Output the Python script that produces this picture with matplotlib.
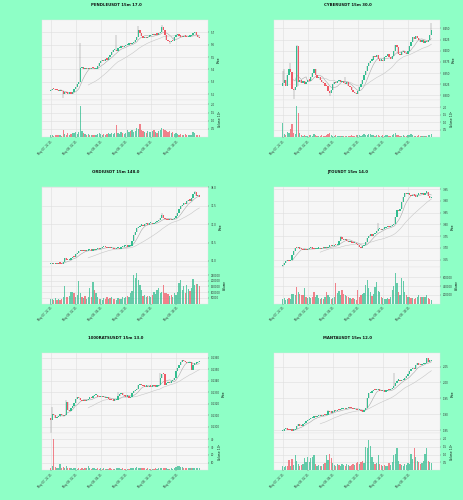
import numpy as np
import matplotlib
matplotlib.use("Agg")
import matplotlib.pyplot as plt

# ---------------- data ----------------
titles = ["PENDLEUSDT 15m 17.0", "CYBERUSDT 15m 30.0", "ORDIUSDT 15m 148.0",
          "JTOUSDT 15m 14.0", "1000RATSUSDT 15m 13.0", "MANTAUSDT 15m 12.0"]

x_tick_labels = ["May 07, 22:15", "May 08, 02:15", "May 08, 06:15",
                 "May 08, 10:15", "May 08, 14:15", "May 08, 18:15"]

# PENDLE
pendle_open0 = 5.225
pendle_close = [5.235, 5.245, 5.24, 5.235, 5.232, 5.228, 5.23, 5.225,
                5.20,
                5.215, 5.21, 5.205, 5.21,
                5.205, 5.215,
                5.24, 5.26, 5.28, 5.30,
                5.41,
                5.42, 5.40, 5.41, 5.405, 5.41, 5.40, 5.415, 5.41, 5.40, 5.405,
                5.43, 5.45, 5.47,
                5.48, 5.465, 5.485, 5.48, 5.50,
                5.52, 5.54, 5.555, 5.56,
                5.55,
                5.57, 5.575, 5.585, 5.58, 5.59, 5.595,
                5.60, 5.61, 5.605, 5.615, 5.62,
                5.64, 5.66,
                5.72,
                5.69,
                5.67, 5.655,
                5.66, 5.655, 5.665, 5.67, 5.675,
                5.68, 5.675, 5.685, 5.68, 5.69,
                5.70, 5.74, 5.72, 5.68, 5.64,
                5.625, 5.62, 5.63, 5.625,
                5.66, 5.675, 5.685,
                5.67, 5.665, 5.66, 5.67, 5.665, 5.66,
                5.665, 5.67, 5.675,
                5.69, 5.70,
                5.675, 5.66, 5.655]
pendle_volume = [0.10, 0.12, 0.08, 0.10, 0.15, 0.10, 0.12, 0.09,
                 0.45,
                 0.20, 0.15, 0.25, 0.12,
                 0.18, 0.22,
                 0.25, 0.30, 0.20, 0.28,
                 1.90,
                 0.35, 0.25, 0.20, 0.15, 0.18, 0.12, 0.10, 0.15, 0.12, 0.10,
                 0.20, 0.25, 0.18,
                 0.15, 0.20, 0.12, 0.18, 0.22,
                 0.20, 0.25, 0.18, 0.22,
                 0.75,
                 0.25, 0.20, 0.30, 0.22, 0.18, 0.25,
                 0.45, 0.30, 0.35, 0.40, 0.30,
                 0.35, 0.55,
                 0.50,
                 0.80,
                 0.40, 0.35,
                 0.30, 0.25, 0.35, 0.30, 0.28,
                 0.35, 0.40, 0.30, 0.25, 0.35,
                 0.40, 0.55, 0.50, 0.45, 0.35,
                 0.30, 0.35, 0.25, 0.30,
                 0.20, 0.25, 0.18,
                 0.15, 0.18, 0.12, 0.15, 0.20, 0.12,
                 0.15, 0.10, 0.12,
                 0.30, 0.25,
                 0.15, 0.12, 0.10]
pendle_high = {19: 5.61, 42: 5.68, 56: 5.75, 71: 5.76}
pendle_low = {8: 5.17, 76: 5.605}
pendle_yticks = [5.2, 5.3, 5.4, 5.5, 5.6, 5.7]
pendle_vticks = [0.5, 1.0, 1.5, 2.0]

# CYBER
cyber_open0 = 8.320
cyber_close = [8.327, 8.335, 8.322,
               8.345, 8.360, 8.352,
               8.315, 8.312, 8.318,
               8.410,
               8.330,
               8.335, 8.328, 8.332, 8.325, 8.330, 8.335, 8.333,
               8.342, 8.350, 8.360,
               8.345, 8.338, 8.340,
               8.335, 8.330, 8.328, 8.322, 8.320,
               8.310, 8.305, 8.312,
               8.325, 8.330, 8.328, 8.332, 8.335, 8.330, 8.333,
               8.328, 8.325, 8.330, 8.322,
               8.318, 8.312, 8.308, 8.305, 8.303,
               8.310, 8.318, 8.325, 8.335,
               8.345, 8.355, 8.365, 8.372,
               8.378, 8.380, 8.388, 8.385, 8.390, 8.382, 8.378,
               8.380, 8.376, 8.385, 8.388, 8.392,
               8.386, 8.382, 8.388,
               8.400, 8.412, 8.408,
               8.392, 8.390,
               8.396, 8.400, 8.394, 8.392,
               8.400, 8.410, 8.420,
               8.430, 8.426, 8.432, 8.428, 8.425,
               8.420, 8.424, 8.418, 8.422,
               8.420, 8.425, 8.435, 8.446]
cyber_volume = [0.95, 0.20, 0.15, 0.35, 0.30, 0.55, 0.85, 0.30, 0.20, 2.10,
                1.60, 0.25, 0.15, 0.10, 0.12, 0.08, 0.10, 0.12, 0.15, 0.10,
                0.18, 0.12, 0.10, 0.08, 0.10, 0.12, 0.08, 0.10, 0.15, 0.20,
                0.25, 0.12, 0.10, 0.08, 0.12, 0.10, 0.08, 0.10, 0.06, 0.08,
                0.10, 0.08, 0.06, 0.10, 0.12, 0.08, 0.10, 0.12, 0.15, 0.12,
                0.10, 0.15, 0.18, 0.12, 0.15, 0.18, 0.20, 0.12, 0.15, 0.10,
                0.12, 0.15, 0.08, 0.10, 0.12, 0.10, 0.15, 0.12, 0.10, 0.08,
                0.12, 0.20, 0.28, 0.15, 0.12, 0.10, 0.08, 0.12, 0.10, 0.08,
                0.15, 0.12, 0.20, 0.15, 0.10, 0.08, 0.10, 0.12, 0.08, 0.10,
                0.06, 0.08, 0.10, 0.12, 0.15, 0.20]
cyber_high = {0: 8.355, 1: 8.36, 5: 8.372, 9: 8.412, 40: 8.34, 95: 8.462}
cyber_low = {7: 8.292, 10: 8.32, 30: 8.298}
cyber_yticks = [8.300, 8.325, 8.350, 8.375, 8.400, 8.425, 8.450]
cyber_vticks = [0.5, 1.0, 1.5, 2.0]

# ORDI
ordi_open0 = 35.91
ordi_close = [35.92, 35.93, 35.92, 35.93, 35.92, 35.94, 35.93, 35.92,
              35.98, 36.07,
              36.04, 36.02, 36.03,
              36.08, 36.12, 36.10,
              36.18, 36.22, 36.26,
              36.28, 36.26, 36.29, 36.27, 36.28, 36.29,
              36.30, 36.28, 36.31, 36.30,
              36.32, 36.34, 36.33, 36.35,
              36.37, 36.39, 36.38, 36.36, 36.37,
              36.34, 36.35, 36.33,
              36.32, 36.34, 36.35, 36.33,
              36.37, 36.39, 36.40, 36.41, 36.39,
              36.40, 36.42,
              36.55, 36.71,
              36.80,
              36.90, 36.93,
              36.96, 36.99, 36.95,
              37.00, 37.02, 36.99,
              37.02, 37.04, 37.01, 37.03, 37.05,
              37.08, 37.11,
              37.18, 37.25,
              37.16, 37.13,
              37.12, 37.11, 37.13, 37.12, 37.14,
              37.17, 37.22, 37.29,
              37.40, 37.50, 37.52, 37.57,
              37.55, 37.62, 37.66,
              37.64, 37.70,
              37.82, 37.86,
              37.76, 37.80, 37.75]
ordi_volume = [40, 45, 30, 50, 35, 45, 30, 40,
               55, 150, 60, 55, 70,
               100, 105, 90, 60, 75, 200,
               90, 55, 50, 70, 40, 55,
               135, 60, 185, 120, 95, 55, 45, 40,
               35, 50, 40, 55, 45, 50, 55, 40,
               45, 35, 50, 40, 45, 60, 50, 55, 70,
               60, 90, 110, 250, 220, 265, 205, 160, 120, 70,
               75, 60, 70, 65, 55, 80, 100, 85, 120, 135,
               95, 105, 160, 90, 95, 85, 70, 80, 60,
               95, 75, 100, 180, 210, 120, 150, 95, 160,
               130, 110, 140, 215, 165, 175, 170, 150]
ordi_high = {71: 37.30, 92: 37.90}
ordi_low = {}
ordi_yticks = [36.0, 36.5, 37.0, 37.5, 38.0]
ordi_vticks = [50000, 100000, 150000, 200000, 250000]

# JTO
jto_open0 = 3.622
jto_close = [3.628, 3.636, 3.642,
             3.648, 3.645, 3.650,
             3.668, 3.685, 3.700,
             3.698, 3.703,
             3.697, 3.693, 3.690,
             3.692, 3.689,
             3.696, 3.700, 3.702,
             3.696, 3.693, 3.695,
             3.697, 3.699, 3.696, 3.700, 3.698, 3.702, 3.700,
             3.705, 3.708, 3.706, 3.709,
             3.712, 3.710, 3.714,
             3.730, 3.745,
             3.738, 3.734, 3.736,
             3.728, 3.726, 3.730,
             3.722, 3.719, 3.720, 3.716,
             3.710, 3.705, 3.700,
             3.706, 3.712,
             3.725, 3.740, 3.752,
             3.756, 3.752, 3.760, 3.762,
             3.770, 3.778,
             3.780, 3.776, 3.782, 3.785,
             3.788, 3.790, 3.788, 3.792,
             3.796, 3.800,
             3.830, 3.860,
             3.855, 3.866,
             3.895, 3.918,
             3.932, 3.928, 3.935,
             3.924, 3.920, 3.925, 3.922,
             3.918, 3.926, 3.930,
             3.928, 3.932, 3.926,
             3.935, 3.938,
             3.920, 3.910, 3.912]
jto_volume = [100, 120, 90, 110, 130, 100,
              210, 230, 200,
              385, 260, 220, 190, 200, 350, 150,
              130, 150, 120, 140,
              270, 160, 200, 130, 100, 120, 110, 150, 270,
              190, 140, 100, 120, 150, 460, 240,
              280, 200, 310, 220, 190, 170, 150, 130,
              110, 120, 100, 90, 300, 160, 190, 230,
              250, 420, 535, 350, 270, 180, 230, 380,
              500, 280, 260, 160, 130, 100, 110, 120,
              100, 150, 300, 400, 690, 460, 270, 200,
              570, 520, 270, 200, 160, 150, 120, 130,
              110, 130, 150, 190, 160, 140, 150,
              140, 190, 120, 100, 90]
jto_high = {61: 3.807, 37: 3.750}
jto_low = {0: 3.615}
jto_yticks = [3.65, 3.70, 3.75, 3.80, 3.85, 3.90, 3.95]
jto_vticks = [200000, 400000, 600000]

# 1000RATS
rats_open0 = 0.13080
rats_close = [0.13060,
              0.13110, 0.13104,
              0.13075, 0.13085, 0.13095,
              0.13112, 0.13100,
              0.13095, 0.13105,
              0.13215,
              0.13150, 0.13140, 0.13160,
              0.13185, 0.13210, 0.13240,
              0.13255, 0.13250,
              0.13235, 0.13225,
              0.13230, 0.13225, 0.13232,
              0.13245, 0.13250, 0.13248,
              0.13265, 0.13275, 0.13278,
              0.13262, 0.13258,
              0.13262, 0.13255, 0.13258, 0.13250, 0.13252,
              0.13245, 0.13235, 0.13230, 0.13228,
              0.13232, 0.13235,
              0.13265, 0.13285, 0.13292,
              0.13275, 0.13268, 0.13262, 0.13270,
              0.13250, 0.13262, 0.13290,
              0.13310, 0.13322, 0.13330,
              0.13360, 0.13372, 0.13365,
              0.13355, 0.13350,
              0.13352, 0.13348, 0.13356, 0.13350, 0.13354, 0.13352,
              0.13350, 0.13355, 0.13360,
              0.13420, 0.13462,
              0.13455,
              0.13365,
              0.13380, 0.13386, 0.13382,
              0.13395, 0.13405, 0.13420,
              0.13480, 0.13508,
              0.13540, 0.13565, 0.13580,
              0.13570, 0.13560, 0.13550,
              0.13555, 0.13560,
              0.13495,
              0.13540, 0.13548,
              0.13550, 0.13562, 0.13575]
rats_volume = [3, 5, 40, 4, 3, 2.5, 8, 3, 4, 3.5,
               5, 3, 2.5, 3, 2, 2.5, 3, 2, 2.5, 2,
               3, 2, 2.5, 3, 5, 2.5, 2, 3, 2.5, 2,
               2.5, 2, 3, 2, 2.5, 2, 1.5, 2, 2.5, 2,
               1.5, 2, 2.5, 3, 2.5, 2, 2.5, 2, 1.5, 2,
               2, 2.5, 3, 3.5, 3, 4, 3.5, 3, 3.5, 3,
               2.5, 2, 2.5, 2, 1.5, 2, 2, 2.5, 2, 2.5,
               3.5, 3, 2.5, 3, 2.5, 2, 2, 2.5, 2, 2.5,
               4, 5, 5.5, 4.5, 4, 3.5, 3, 2.5, 3, 2.5,
               3.5, 3, 2.5, 3, 2.5, 3]
rats_high = {1: 0.13175, 10: 0.13235, 43: 0.13300, 70: 0.13470}
rats_low = {0: 0.12950}
rats_yticks = [0.1300, 0.1310, 0.1320, 0.1330, 0.1340, 0.1350, 0.1360]
rats_vticks = [10, 20, 30, 40]

# MANTA
manta_open0 = 1.846
manta_close = [1.848, 1.853, 1.855,
               1.851, 1.849, 1.852, 1.848,
               1.850, 1.852,
               1.862, 1.870,
               1.864, 1.862,
               1.868, 1.872, 1.877,
               1.882, 1.885, 1.887,
               1.889, 1.891, 1.890,
               1.893, 1.894, 1.896, 1.895, 1.897,
               1.896, 1.898,
               1.911,
               1.907, 1.905, 1.908,
               1.911, 1.910,
               1.913, 1.912, 1.915,
               1.916, 1.917, 1.915, 1.918,
               1.921, 1.920,
               1.918, 1.916, 1.917,
               1.914, 1.912, 1.913, 1.910,
               1.908, 1.912,
               1.918,
               1.950, 1.966,
               1.968, 1.972,
               1.976, 1.975, 1.977,
               1.978, 1.974,
               1.972, 1.973, 1.971, 1.974,
               1.976, 1.975,
               1.979, 1.982,
               1.990, 1.997,
               2.006, 2.008,
               2.005, 2.007, 2.009,
               2.013, 2.020, 2.028,
               2.035, 2.042, 2.045,
               2.041, 2.055,
               2.063, 2.056,
               2.054, 2.057,
               2.058, 2.060,
               2.076, 2.066,
               2.068, 2.071]
manta_volume = [0.25, 0.20, 0.30, 0.25,
                0.65, 0.30, 0.75, 0.35, 0.95, 0.60, 0.40,
                0.30, 0.35, 0.40,
                0.80, 0.55, 0.85, 0.50, 0.80, 0.85, 0.95,
                0.40, 0.30, 0.35, 0.25, 0.30,
                0.40, 0.45, 1.00, 0.65, 1.05, 0.80, 0.45,
                0.35, 0.30, 0.40, 0.35, 0.30,
                0.40, 0.35, 0.30, 0.40, 0.35, 0.30, 0.35,
                0.40, 0.35, 0.45, 0.55,
                0.40, 0.50, 0.60, 0.45,
                1.50, 1.40, 1.95, 1.55, 0.85, 0.55, 0.40,
                0.45, 0.95, 0.40, 0.35, 0.30, 0.35, 0.25,
                0.30, 0.45, 0.35, 0.55,
                0.95, 1.05, 1.40, 0.60, 0.40,
                0.35, 0.30, 0.40,
                0.35, 0.45, 0.40, 1.05, 0.75, 1.40, 0.85,
                0.60, 0.50, 0.40, 0.45,
                0.60, 1.05, 1.40, 0.60, 0.55, 0.45]
manta_high = {71: 2.029, 29: 1.914}
manta_low = {}
manta_yticks = [1.85, 1.90, 1.95, 2.00, 2.05]
manta_vticks = [0.5, 1.0, 1.5, 2.0]

# ---------------- styling / layout ----------------
W, H = 464, 500
BG = "#8effc6"
UP = "#33bd8f"
DOWN = "#ef5a66"
WICK = "#8c8c8c"
FACE = "#f6f6f6"
GRIDC = "#dedede"
MA_COLORS = ["#a8a8a8", "#c6c6c6"]
MA_WINDOWS = [7, 25]
TICK_EVERY = 16

charts = [
    dict(title=titles[0], open0=pendle_open0, close=pendle_close, volume=pendle_volume,
         high=pendle_high, low=pendle_low, yticks=pendle_yticks, ylim=(5.154, 5.798),
         vticks=pendle_vticks, vtop=2.27, vlabel="Volume  $10^{6}$", yfmt="{:.1f}", vfmt="{:.1f}"),
    dict(title=titles[1], open0=cyber_open0, close=cyber_close, volume=cyber_volume,
         high=cyber_high, low=cyber_low, yticks=cyber_yticks, ylim=(8.2896, 8.4687),
         vticks=cyber_vticks, vtop=2.5, vlabel="Volume  $10^{6}$", yfmt="{:.3f}", vfmt="{:.1f}"),
    dict(title=titles[2], open0=ordi_open0, close=ordi_close, volume=ordi_volume,
         high=ordi_high, low=ordi_low, yticks=ordi_yticks, ylim=(35.846, 38.018),
         vticks=[v / 1000 for v in ordi_vticks], vtop=323, vlabel="Volume", yfmt="{:.1f}",
         vlabels=[str(v) for v in ordi_vticks]),
    dict(title=titles[3], open0=jto_open0, close=jto_close, volume=jto_volume,
         high=jto_high, low=jto_low, yticks=jto_yticks, ylim=(3.620, 3.960),
         vticks=[v / 1000 for v in jto_vticks], vtop=838, vlabel="Volume", yfmt="{:.2f}",
         vlabels=[str(v) for v in jto_vticks]),
    dict(title=titles[4], open0=rats_open0, close=rats_close, volume=rats_volume,
         high=rats_high, low=rats_low, yticks=rats_yticks, ylim=(0.12945, 0.13637),
         vticks=rats_vticks, vtop=47.8, vlabel="Volume  $10^{6}$", yfmt="{:.4f}", vfmt="{:.0f}"),
    dict(title=titles[5], open0=manta_open0, close=manta_close, volume=manta_volume,
         high=manta_high, low=manta_low, yticks=manta_yticks, ylim=(1.8395, 2.092),
         vticks=manta_vticks, vtop=2.35, vlabel="Volume  $10^{6}$", yfmt="{:.2f}", vfmt="{:.1f}"),
]

TICKFS = 1.9
fig = plt.figure(figsize=(W / 100, H / 100), dpi=100, facecolor=BG)


def style_axis(ax):
    ax.set_facecolor(FACE)
    for s in ax.spines.values():
        s.set_color("#e4e4e4")
        s.set_linewidth(0.3)
    ax.yaxis.tick_right()
    ax.yaxis.set_label_position("right")
    ax.tick_params(axis="both", labelsize=TICKFS, length=1.0, width=0.3,
                   pad=1.0, colors="#333333")
    ax.grid(True, color=GRIDC, linewidth=0.4)
    ax.set_axisbelow(True)


for i, ch in enumerate(charts):
    col, row = i % 2, i // 2
    rt = row * H / 3.0
    left = (col * 232 + 42) / W
    width = 166 / W
    axp = fig.add_axes([left, 1 - (rt + 100) / H, width, 80 / H])
    axv = fig.add_axes([left, 1 - (rt + 137) / H, width, 37 / H], sharex=axp)
    style_axis(axp)
    style_axis(axv)

    c = np.array(ch["close"], dtype=float)
    n = len(c)
    o = np.r_[ch["open0"], c[:-1]]
    hi = np.maximum(o, c)
    lo = np.minimum(o, c)
    for k, v in ch["high"].items():
        hi[k] = max(hi[k], v)
    for k, v in ch["low"].items():
        lo[k] = min(lo[k], v)
    x = np.arange(n)
    up = c >= o
    cols = np.where(up, UP, DOWN)

    for w, mc in zip(MA_WINDOWS, MA_COLORS):
        if n >= w:
            ma = np.convolve(c, np.ones(w) / w, mode="valid")
            axp.plot(x[w - 1:], ma, color=mc, linewidth=0.4, zorder=2.5)
    axp.vlines(x, lo, hi, color=WICK, linewidth=0.35, zorder=2.8)
    span = ch["ylim"][1] - ch["ylim"][0]
    body = np.maximum(np.abs(c - o), span * 0.015)
    axp.bar(x, body, bottom=np.minimum(o, c), width=0.8, color=cols, linewidth=0, zorder=3)

    axp.set_ylim(*ch["ylim"])
    axp.set_yticks(ch["yticks"])
    axp.set_yticklabels([ch["yfmt"].format(t) for t in ch["yticks"]])
    axp.set_ylabel("Price", fontsize=TICKFS, labelpad=1.5)
    axp.set_xlim(-5.5, n + 4.5)
    axp.tick_params(axis="x", labelbottom=False, length=0)

    axv.bar(x, ch["volume"], width=0.8, color=cols, alpha=0.75, linewidth=0, zorder=3)
    axv.set_ylim(0, ch["vtop"])
    axv.set_yticks(ch["vticks"])
    if "vlabels" in ch:
        axv.set_yticklabels(ch["vlabels"])
    else:
        axv.set_yticklabels([ch["vfmt"].format(t) for t in ch["vticks"]])
    axv.set_ylabel(ch["vlabel"], fontsize=TICKFS, labelpad=1.5)

    ticks = list(range(0, n, TICK_EVERY))
    axv.set_xticks(ticks)
    axv.set_xticklabels(x_tick_labels[:len(ticks)], rotation=45, ha="right",
                        rotation_mode="anchor", fontsize=TICKFS)

    fig.text((col * 232 + 116) / W, 1 - (rt + 3) / H, ch["title"], ha="center",
             va="top", fontsize=2.8, fontweight="bold", color="#111111")

fig.savefig("out.png", dpi=100, facecolor=BG)
